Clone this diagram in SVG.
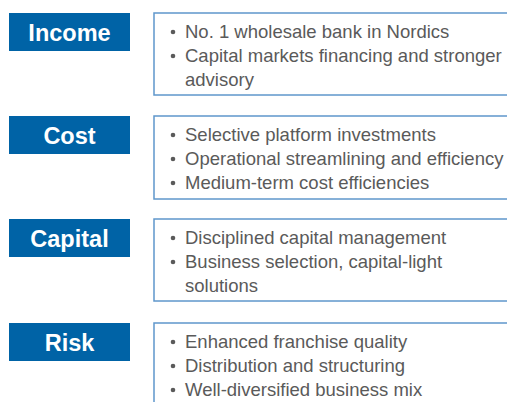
<svg xmlns="http://www.w3.org/2000/svg" width="507" height="402" viewBox="0 0 507 402">
<style>
.lab{fill:#0063a6}
.labt{font-family:"Liberation Sans",Arial,sans-serif;font-weight:bold;font-size:23.5px;fill:#ffffff;text-anchor:middle}
.box{fill:#ffffff;stroke:#5f97cb;stroke-width:1.5}
.t{font-family:"Liberation Sans",Arial,sans-serif;font-size:18.5px;fill:#5a5a5a}
.b{fill:#5a5a5a}
</style>
<rect width="507" height="402" fill="#ffffff"/>
<g id="income">
<rect class="lab" x="9" y="13" width="121" height="38"/>
<text class="labt" x="69.5" y="41">Income</text>
<rect class="box" x="154" y="13" width="370" height="82"/>
<circle class="b" cx="173" cy="32" r="2.3"/>
<circle class="b" cx="173" cy="56" r="2.3"/>
<text class="t" x="185" y="37.5">No. 1 wholesale bank in Nordics</text>
<text class="t" x="185" y="61.5">Capital markets financing and stronger</text>
<text class="t" x="185" y="85.5">advisory</text>
</g>
<g id="cost">
<rect class="lab" x="9" y="116" width="121" height="38"/>
<text class="labt" x="69.5" y="144">Cost</text>
<rect class="box" x="154" y="116" width="370" height="83"/>
<circle class="b" cx="173" cy="135" r="2.3"/>
<circle class="b" cx="173" cy="159" r="2.3"/>
<circle class="b" cx="173" cy="183" r="2.3"/>
<text class="t" x="185" y="141">Selective platform investments</text>
<text class="t" x="185" y="165">Operational streamlining and efficiency</text>
<text class="t" x="185" y="189">Medium-term cost efficiencies</text>
</g>
<g id="capital">
<rect class="lab" x="9" y="219" width="121" height="38"/>
<text class="labt" x="69.5" y="247">Capital</text>
<rect class="box" x="154" y="219" width="370" height="82"/>
<circle class="b" cx="173" cy="238" r="2.3"/>
<circle class="b" cx="173" cy="262" r="2.3"/>
<text class="t" x="185" y="244">Disciplined capital management</text>
<text class="t" x="185" y="268">Business selection, capital-light</text>
<text class="t" x="185" y="292">solutions</text>
</g>
<g id="risk">
<rect class="lab" x="9" y="323" width="121" height="38"/>
<text class="labt" x="69.5" y="351">Risk</text>
<rect class="box" x="154" y="323" width="370" height="90"/>
<circle class="b" cx="173" cy="342" r="2.3"/>
<circle class="b" cx="173" cy="366" r="2.3"/>
<circle class="b" cx="173" cy="390" r="2.3"/>
<text class="t" x="185" y="348">Enhanced franchise quality</text>
<text class="t" x="185" y="372">Distribution and structuring</text>
<text class="t" x="185" y="396">Well-diversified business mix</text>
</g>
<g id="connectors"/>
</svg>
